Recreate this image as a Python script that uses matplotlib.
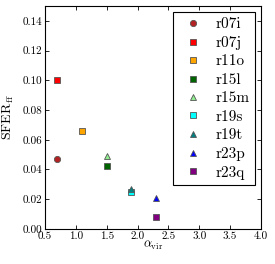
import matplotlib
matplotlib.use("Agg")
import matplotlib.pyplot as plt

plt.rcParams['font.family'] = 'serif'
plt.rcParams['font.serif'] = ['cmr10']
plt.rcParams['mathtext.fontset'] = 'cm'
plt.rcParams['axes.formatter.use_mathtext'] = True
plt.rcParams['xtick.direction'] = 'in'
plt.rcParams['ytick.direction'] = 'in'
plt.rcParams['xtick.top'] = True
plt.rcParams['ytick.right'] = True

names = ['r07i', 'r07j', 'r11o', 'r15l', 'r15m', 'r19s', 'r19t', 'r23p', 'r23q']
alpha_vir = [0.7, 0.7, 1.1, 1.5, 1.5, 1.9, 1.9, 2.3, 2.3]
sfe_ff = [0.047, 0.100, 0.066, 0.042, 0.049, 0.025, 0.027, 0.021, 0.008]
markers = ['o', 's', 's', 's', '^', 's', '^', '^', 's']
colors = ['#b22222', '#ff0000', '#ffa500', '#006400', '#90ee90', '#00ffff', '#008080', '#0000ff', '#800080']

fig = plt.figure(figsize=(2.75, 2.64), dpi=100)
ax = fig.add_axes([0.164, 0.133, 0.785, 0.844])
for n, x, y, m, c in zip(names, alpha_vir, sfe_ff, markers, colors):
    ax.plot([x], [y], linestyle='none', marker=m, color=c, markersize=4.5,
            markeredgecolor='#555555', markeredgewidth=0.6, label=n)

ax.set_xlim(0.5, 4.0)
ax.set_ylim(0.0, 0.15)
ax.set_xticks([0.5, 1.0, 1.5, 2.0, 2.5, 3.0, 3.5, 4.0])
ax.set_yticks([0.0, 0.02, 0.04, 0.06, 0.08, 0.10, 0.12, 0.14])
ax.set_xticklabels(['0.5', '1.0', '1.5', '2.0', '2.5', '3.0', '3.5', '4.0'])
ax.set_yticklabels(['0.00', '0.02', '0.04', '0.06', '0.08', '0.10', '0.12', '0.14'])
ax.tick_params(labelsize=8, length=3, width=0.6, pad=2)
for s in ax.spines.values():
    s.set_linewidth(0.8)
ax.set_xlabel(r'$\alpha_{\rm vir}$', fontsize=9, labelpad=-2)
ax.set_ylabel(r'$\mathrm{SFER}_{\rm ff}$', fontsize=10, labelpad=5)

leg = ax.legend(loc='upper right', numpoints=1, fontsize=11.0, labelspacing=0.31,
                handlelength=2.0, handletextpad=0.46, borderpad=0.33,
                fancybox=False, framealpha=1, borderaxespad=0.42)
leg.get_frame().set_edgecolor('black')
leg.get_frame().set_linewidth(0.8)

fig.savefig('out.png', dpi=100)
